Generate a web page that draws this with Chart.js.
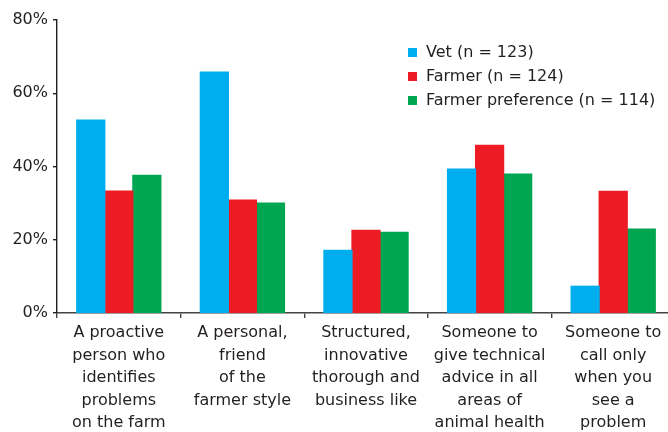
<!DOCTYPE html>
<html lang="en">

<head>
  <title>Preferred vet style</title>
  <style>
    body { margin: 0; overflow: hidden; background: #fff; }
    #wrap { width: 680px; height: 440px; }
  </style>
</head>

<body>
  <div id="wrap"><canvas id="myChart" width="680" height="440"></canvas></div>
  <script src="https://cdn.jsdelivr.net/npm/chart.js@4/dist/chart.umd.min.js"></script>
  <script>
    var categories = [
      ['A proactive', 'person who', 'identifies', 'problems', 'on the farm'],
      ['A personal,', 'friend', 'of the', 'farmer style'],
      ['Structured,', 'innovative', 'thorough and', 'business like'],
      ['Someone to', 'give technical', 'advice in all', 'areas of', 'animal health'],
      ['Someone to', 'call only', 'when you', 'see a', 'problem']
    ];
    var seriesNames = ['Vet (n = 123)', 'Farmer (n = 124)', 'Farmer preference (n = 114)'];
    var vetValues = [52.7, 65.8, 17.1, 39.3, 7.3];
    var farmerValues = [33.3, 30.8, 22.6, 45.8, 33.2];
    var preferenceValues = [37.6, 30.0, 22.0, 37.9, 22.9];
    var yTicks = [0, 20, 40, 60, 80];

    var colors = ['#00aeef', '#ed1c24', '#00a651'];
    var textColor = '#231f20';

    // legend drawn inside the plot, top right
    var insideLegend = {
      id: 'insideLegend',
      afterDraw: function (chart) {
        var c = chart.ctx;
        c.save();
        c.font = '16px "DejaVu Sans"';
        c.textBaseline = 'middle';
        c.textAlign = 'left';
        chart.data.datasets.forEach(function (ds, i) {
          var y = 52.5 + i * 24;
          c.fillStyle = ds.backgroundColor;
          c.fillRect(408, y - 4.5, 9, 9);
          c.fillStyle = textColor;
          c.fillText(ds.label, 426, y);
        });
        c.restore();
      }
    };

    var ctx = document.getElementById('myChart').getContext('2d');
    var chart = new Chart(ctx, {
      type: 'bar',
      data: {
        labels: categories,
        datasets: [
          { label: seriesNames[0], data: vetValues, backgroundColor: colors[0] },
          { label: seriesNames[1], data: farmerValues, backgroundColor: colors[1] },
          { label: seriesNames[2], data: preferenceValues, backgroundColor: colors[2] }
        ]
      },
      options: {
        responsive: false,
        animation: false,
        events: [],
        categoryPercentage: 0.681,
        barPercentage: 1,
        inflateAmount: 0.6,
        layout: { padding: { top: 20, right: 5, left: 0, bottom: 0 } },
        plugins: {
          legend: { display: false },
          tooltip: { enabled: false }
        },
        scales: {
          x: {
            afterFit: function (s) { s.height = 127; },
            border: { display: true, color: '#444', width: 1.4 },
            grid: { display: true, drawOnChartArea: false, drawTicks: true, tickLength: 5, color: '#444', lineWidth: 1.4, offset: true },
            ticks: {
              color: textColor,
              padding: 4,
              maxRotation: 0,
              autoSkip: false,
              font: { family: 'DejaVu Sans', size: 16, lineHeight: 1.4 }
            }
          },
          y: {
            min: 0,
            max: 80,
            afterFit: function (s) { s.width = 57; },
            afterBuildTicks: function (s) { s.ticks = yTicks.map(function (v) { return { value: v }; }); },
            border: { display: true, color: textColor, width: 1.4 },
            grid: { display: true, drawOnChartArea: false, drawTicks: true, tickLength: 4, color: textColor, lineWidth: 1.4 },
            ticks: {
              color: textColor,
              padding: 5,
              font: { family: 'DejaVu Sans', size: 16 },
              callback: function (v) { return v + '%'; }
            }
          }
        }
      },
      plugins: [insideLegend]
    });
  </script>
</body>

</html>
